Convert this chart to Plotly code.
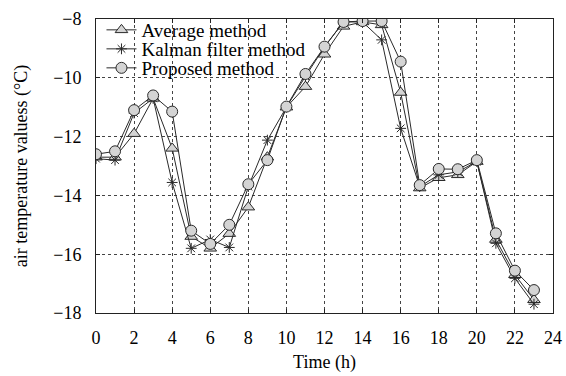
import plotly.graph_objects as go

hours = list(range(24))
average_method = [-12.7, -12.7, -11.9, -10.7, -12.4, -15.4, -15.8, -15.3, -14.4, -12.7,
                  -11.0, -10.3, -9.2, -8.25, -8.1, -8.2, -10.5, -13.75, -13.4, -13.3,
                  -12.85, -15.5, -16.7, -17.55]
kalman_method = [-12.75, -12.8, -11.2, -10.7, -13.56, -15.8, -15.5, -15.77, -13.7, -12.12,
                 -11.0, -9.95, -8.95, -8.1, -8.1, -8.71, -11.72, -13.7, -13.3, -13.2,
                 -12.85, -15.63, -16.82, -17.7]
proposed_method = [-12.6, -12.5, -11.1, -10.6, -11.15, -15.2, -15.65, -15.0, -13.62, -12.8,
                   -10.98, -9.87, -8.94, -8.1, -8.07, -8.07, -9.45, -13.65, -13.1, -13.11,
                   -12.8, -15.29, -16.56, -17.22]

x_ticks = list(range(0, 25, 2))
y_ticks = [-18, -16, -14, -12, -10, -8]
y_tick_text = ["\u221218", "\u221216", "\u221214", "\u221212", "\u221210", "\u22128"]

line_col = "#2a2a2a"
fill_col = "#d4d4d4"
FONT = "Liberation Serif, Times New Roman, serif"

fig = go.Figure()
fig.add_trace(go.Scatter(
    x=hours, y=average_method, mode="lines+markers", name="Average method",
    line=dict(color=line_col, width=1), legend="legend",
    marker=dict(symbol="triangle-up", size=11, color=fill_col, line=dict(color=line_col, width=1)),
))
fig.add_trace(go.Scatter(
    x=hours, y=kalman_method, mode="lines+markers", name="Kalman filter method",
    line=dict(color=line_col, width=1), legend="legend2",
    marker=dict(symbol="asterisk-open", size=9, color=line_col, line=dict(color=line_col, width=1)),
))
fig.add_trace(go.Scatter(
    x=hours, y=proposed_method, mode="lines+markers", name="Proposed method",
    line=dict(color=line_col, width=1), legend="legend3",
    marker=dict(symbol="circle", size=11, color=fill_col, line=dict(color=line_col, width=1)),
))

axis_common = dict(
    showline=True, linecolor="#222", linewidth=1, mirror="allticks",
    ticks="inside", ticklen=4, tickcolor="#222",
    showgrid=True, gridcolor="#444", griddash="dot", gridwidth=1,
    zeroline=False, automargin=False,
    tickfont=dict(family=FONT, size=18, color="black"),
)

fig.update_xaxes(range=[0, 24], tickvals=x_ticks, ticklabelstandoff=8,
                 title=dict(text="Time (h)", font=dict(family=FONT, size=18, color="black"), standoff=8),
                 **axis_common)
fig.update_yaxes(range=[-18, -8], tickvals=y_ticks, ticktext=y_tick_text, ticklabelstandoff=10,
                 title=dict(text="air temperature valuess (\u00b0C)", font=dict(family=FONT, size=18, color="black"), standoff=20),
                 **axis_common)

PLOT_LEFT = 96
PLOT_W = 566 - 96 - 13
PLOT_TOP = 18
PLOT_H = 376 - 18 - 63

def leg(py):
    return dict(x=0.012, y=1 - (py - PLOT_TOP) / PLOT_H, xanchor="left", yanchor="middle",
                bgcolor="rgba(0,0,0,0)", borderwidth=0,
                font=dict(family=FONT, size=19, color="black"), itemwidth=30)

# white backing box behind the legend (covers grid lines, drawn under data)
fig.add_shape(type="rect", xref="paper", yref="paper", layer="below",
              x0=0.002, x1=(292 - PLOT_LEFT) / PLOT_W,
              y0=1 - (82 - PLOT_TOP) / PLOT_H, y1=0.998,
              fillcolor="white", line=dict(width=0))

fig.update_layout(
    width=566, height=376,
    margin=dict(l=PLOT_LEFT, r=13, t=PLOT_TOP, b=63),
    paper_bgcolor="white", plot_bgcolor="white",
    font=dict(family=FONT, size=18, color="black"),
    legend=leg(30), legend2=leg(49), legend3=leg(68),
    showlegend=True,
)

fig.write_html("out.html", config={"displayModeBar": False},
               post_script="document.body.style.margin='0';document.body.style.padding='0';")
